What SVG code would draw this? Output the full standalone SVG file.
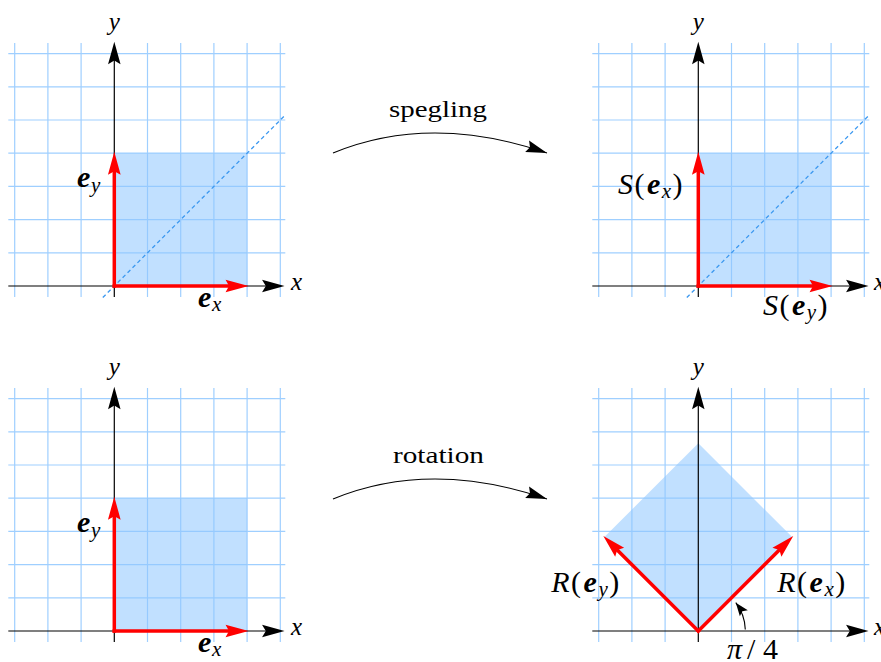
<svg xmlns="http://www.w3.org/2000/svg" width="881" height="662" viewBox="0 0 881 662" font-family="'Liberation Serif', 'DejaVu Serif', serif">
<style>
text { font-family: "Liberation Serif", "DejaVu Serif", "Times New Roman", serif; fill: #000; }
.it { font-style: italic; }
.bi { font-style: italic; font-weight: bold; }
.big { font-size: 30px; }
.sub { font-size: 21px; font-style: italic; font-weight: normal; }
.ax { font-size: 25px; font-style: italic; }
.grid line { stroke: #9fcfff; stroke-width: 1.2; }
.fill { fill: #8ec6ff; fill-opacity: 0.55; }
.diag { stroke: #3d99f0; stroke-width: 1.3; stroke-dasharray: 4 3; fill: none; }
.axis { stroke: #000; stroke-width: 1.2; fill: none; }
.vec { stroke: #ff0000; stroke-width: 3.5; fill: none; stroke-linecap: square; }
.conn { stroke: #000; stroke-width: 1.1; fill: none; }
.lab { letter-spacing: 1.5px; }
</style>
<defs>
  <marker id="ahAxis" markerUnits="userSpaceOnUse" orient="auto" refX="13" refY="0" markerWidth="30" markerHeight="30" viewBox="-2 -8 24 16" overflow="visible">
    <path d="M0,-5 L18,0 L0,5 L3,0 z" fill="#000"/>
  </marker>
  <marker id="ahRed" markerUnits="userSpaceOnUse" orient="auto" refX="10" refY="0" markerWidth="30" markerHeight="30" viewBox="-2 -8 26 16" overflow="visible">
    <path d="M0,-5.5 L20,0 L0,5.5 L3,0 z" fill="#ff0000"/>
  </marker>
  <marker id="ahConn" markerUnits="userSpaceOnUse" orient="auto" refX="14" refY="0" markerWidth="30" markerHeight="30" viewBox="-2 -6 20 12" overflow="visible">
    <path d="M0,-4 L14,0 L0,4 L2,0 z" fill="#000"/>
  </marker>
  <marker id="ahSmall" markerUnits="userSpaceOnUse" orient="auto" refX="8" refY="0" markerWidth="20" markerHeight="20" viewBox="-2 -4 12 8" overflow="visible">
    <path d="M0,-3 L8,0 L0,3 L1.5,0 z" fill="#000"/>
  </marker>
  <g id="grid" class="grid">
    <line x1="-99.6" y1="-243" x2="-99.6" y2="11"/>
    <line x1="-66.4" y1="-243" x2="-66.4" y2="11"/>
    <line x1="-33.2" y1="-243" x2="-33.2" y2="11"/>
    <line x1="33.2" y1="-243" x2="33.2" y2="11"/>
    <line x1="66.4" y1="-243" x2="66.4" y2="11"/>
    <line x1="99.6" y1="-243" x2="99.6" y2="11"/>
    <line x1="132.8" y1="-243" x2="132.8" y2="11"/>
    <line x1="166" y1="-243" x2="166" y2="11"/>
    <line x1="-106" y1="-33.2" x2="171" y2="-33.2"/>
    <line x1="-106" y1="-66.4" x2="171" y2="-66.4"/>
    <line x1="-106" y1="-99.6" x2="171" y2="-99.6"/>
    <line x1="-106" y1="-132.8" x2="171" y2="-132.8"/>
    <line x1="-106" y1="-166" x2="171" y2="-166"/>
    <line x1="-106" y1="-199.2" x2="171" y2="-199.2"/>
    <line x1="-106" y1="-232.4" x2="171" y2="-232.4"/>
  </g>
  <g id="axes">
    <line class="axis" x1="-106" y1="0" x2="164" y2="0" marker-end="url(#ahAxis)"/>
    <line class="axis" x1="0" y1="11" x2="0" y2="-238" marker-end="url(#ahAxis)"/>
  </g>
</defs>

<!-- top-left panel -->
<g id="panel-tl" transform="translate(114.3,286)">
  <use href="#grid"/>
  <rect class="fill" x="0" y="-132.8" width="132.8" height="132.8"/>
  <line class="diag" x1="-11.5" y1="11.5" x2="170" y2="-170"/>
  <use href="#axes"/>
  <line class="vec" x1="0" y1="0" x2="122.8" y2="0" marker-end="url(#ahRed)"/>
  <line class="vec" x1="0" y1="0" x2="0" y2="-122.8" marker-end="url(#ahRed)"/>
</g>
<g id="labels-tl">
  <text class="ax" x="114.3" y="30" text-anchor="middle">y</text>
  <text class="ax" x="291" y="290">x</text>
  <text><tspan class="bi big" x="77" y="187">e</tspan><tspan class="sub" x="91" y="192">y</tspan></text>
  <text><tspan class="bi big" x="198" y="306.5">e</tspan><tspan class="sub" x="212" y="310.5">x</tspan></text>
</g>

<!-- top-right panel -->
<g id="panel-tr" transform="translate(698.3,286)">
  <use href="#grid"/>
  <rect class="fill" x="0" y="-132.8" width="132.8" height="132.8"/>
  <line class="diag" x1="-11.5" y1="11.5" x2="170" y2="-170"/>
  <use href="#axes"/>
  <line class="vec" x1="0" y1="0" x2="122.8" y2="0" marker-end="url(#ahRed)"/>
  <line class="vec" x1="0" y1="0" x2="0" y2="-122.8" marker-end="url(#ahRed)"/>
</g>
<g id="labels-tr">
  <text class="ax" x="698.3" y="30" text-anchor="middle">y</text>
  <text class="ax" x="874" y="290">x</text>
  <text class="big lab" x="651" y="194" text-anchor="middle"><tspan class="it">S</tspan>(<tspan class="bi" dx="1">e</tspan><tspan class="sub" dy="4">x</tspan><tspan dy="-4">)</tspan></text>
  <text class="big lab" x="796" y="315" text-anchor="middle"><tspan class="it">S</tspan>(<tspan class="bi" dx="1">e</tspan><tspan class="sub" dy="4">y</tspan><tspan dy="-4">)</tspan></text>
</g>

<!-- bottom-left panel -->
<g id="panel-bl" transform="translate(114.3,631)">
  <use href="#grid"/>
  <rect class="fill" x="0" y="-132.8" width="132.8" height="132.8"/>
  <use href="#axes"/>
  <line class="vec" x1="0" y1="0" x2="122.8" y2="0" marker-end="url(#ahRed)"/>
  <line class="vec" x1="0" y1="0" x2="0" y2="-122.8" marker-end="url(#ahRed)"/>
</g>
<g id="labels-bl">
  <text class="ax" x="114.3" y="375" text-anchor="middle">y</text>
  <text class="ax" x="291" y="635">x</text>
  <text><tspan class="bi big" x="77" y="532">e</tspan><tspan class="sub" x="91" y="537">y</tspan></text>
  <text><tspan class="bi big" x="198" y="651.5">e</tspan><tspan class="sub" x="212" y="655.5">x</tspan></text>
</g>

<!-- bottom-right panel -->
<g id="panel-br" transform="translate(698.3,631)">
  <use href="#grid"/>
  <polygon class="fill" points="0,0 93.9,-93.9 0,-187.8 -93.9,-93.9"/>
  <use href="#axes"/>
  <line class="vec" x1="0" y1="0" x2="86.8" y2="-86.8" marker-end="url(#ahRed)"/>
  <line class="vec" x1="0" y1="0" x2="-86.8" y2="-86.8" marker-end="url(#ahRed)"/>
  <path class="conn" d="M47,-1.6 A47,47 0 0 0 37.5,-28.3" marker-end="url(#ahSmall)"/>
</g>
<g id="labels-br">
  <text class="ax" x="698.3" y="375" text-anchor="middle">y</text>
  <text class="ax" x="874" y="635">x</text>
  <text class="big lab" x="586" y="592" text-anchor="middle"><tspan class="it">R</tspan>(<tspan class="bi" dx="1">e</tspan><tspan class="sub" dy="4">y</tspan><tspan dy="-4">)</tspan></text>
  <text class="big lab" x="812" y="592" text-anchor="middle"><tspan class="it">R</tspan>(<tspan class="bi" dx="1">e</tspan><tspan class="sub" dy="4">x</tspan><tspan dy="-4">)</tspan></text>
  <text class="big"><tspan class="it" x="727" y="659">π</tspan><tspan x="747" y="659">/</tspan><tspan x="763" y="659">4</tspan></text>
</g>

<!-- connectors -->
<g id="connectors">
  <path class="conn" d="M333,153 Q430,113 547,153" marker-end="url(#ahConn)"/>
  <text x="438" y="116.5" font-size="23" text-anchor="middle" textLength="98" lengthAdjust="spacingAndGlyphs">spegling</text>
  <path class="conn" d="M333,499 Q430,459 547,499" marker-end="url(#ahConn)"/>
  <text x="438.5" y="463" font-size="23" text-anchor="middle" textLength="91" lengthAdjust="spacingAndGlyphs">rotation</text>
</g>
</svg>
